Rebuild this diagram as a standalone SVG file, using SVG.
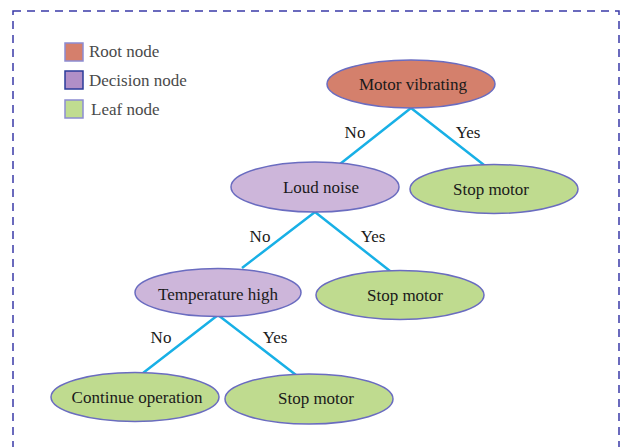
<svg xmlns="http://www.w3.org/2000/svg" width="621" height="447" viewBox="0 0 621 447" font-family="'Liberation Serif', 'DejaVu Serif', serif">
<style>
text{font-family:'Liberation Serif','DejaVu Serif',serif;font-size:17px;fill:#1a1a1a}
.leg{fill:#4a4a4a}
.c{text-anchor:middle}
ellipse{stroke:#6a6cc0;stroke-width:1.5}
.root{fill:#d4806c}
.dec{fill:#cdb6da}
.leaf{fill:#bfdb8f}
.edge{stroke:#18b0e6;stroke-width:2.5;fill:none}
</style>
<rect x="13" y="11" width="606" height="460" fill="none" stroke="#3a3aa8" stroke-width="1.5" stroke-dasharray="8,6"/>
<g id="legend">
<rect x="65" y="43" width="18" height="18" fill="#d57f6c" stroke="#8c8cd2" stroke-width="1.5"/>
<text class="leg" x="89" y="57">Root node</text>
<rect x="65" y="71" width="18" height="18" fill="#b18fc7" stroke="#2b3b9a" stroke-width="1.5"/>
<text class="leg" x="89" y="86">Decision node</text>
<rect x="65" y="100" width="18" height="18" fill="#c0dc90" stroke="#8c8cd2" stroke-width="1.5"/>
<text class="leg" x="91" y="115">Leaf node</text>
</g>
<g id="connectors">
<path class="edge" d="M411 108 L340 164 M411 108 L484 165"/>
<path class="edge" d="M315 212 L242 268 M315 212 L390 271"/>
<path class="edge" d="M218 315 L143 373 M218 315 L296 375"/>
<text class="c" x="355" y="138">No</text>
<text class="c" x="468" y="138">Yes</text>
<text class="c" x="260" y="242">No</text>
<text class="c" x="373" y="242">Yes</text>
<text class="c" x="161" y="343">No</text>
<text class="c" x="275" y="343">Yes</text>
</g>
<g id="n-root"><ellipse class="root" cx="411" cy="84" rx="84" ry="24"/><text class="c" x="413" y="90">Motor vibrating</text></g>
<g id="n-loud"><ellipse class="dec" cx="315" cy="187" rx="84" ry="25"/><text class="c" x="321" y="193">Loud noise</text></g>
<g id="n-stop1"><ellipse class="leaf" cx="494" cy="189" rx="84" ry="24.5"/><text class="c" x="491" y="195">Stop motor</text></g>
<g id="n-temp"><ellipse class="dec" cx="218" cy="292.5" rx="83" ry="24"/><text class="c" x="218" y="300">Temperature high</text></g>
<g id="n-stop2"><ellipse class="leaf" cx="400" cy="295" rx="84" ry="24.5"/><text class="c" x="405" y="301">Stop motor</text></g>
<g id="n-cont"><ellipse class="leaf" cx="135" cy="397" rx="84" ry="24.5"/><text class="c" x="137" y="403">Continue operation</text></g>
<g id="n-stop3"><ellipse class="leaf" cx="309" cy="399" rx="84" ry="25"/><text class="c" x="316" y="404">Stop motor</text></g>
</svg>
